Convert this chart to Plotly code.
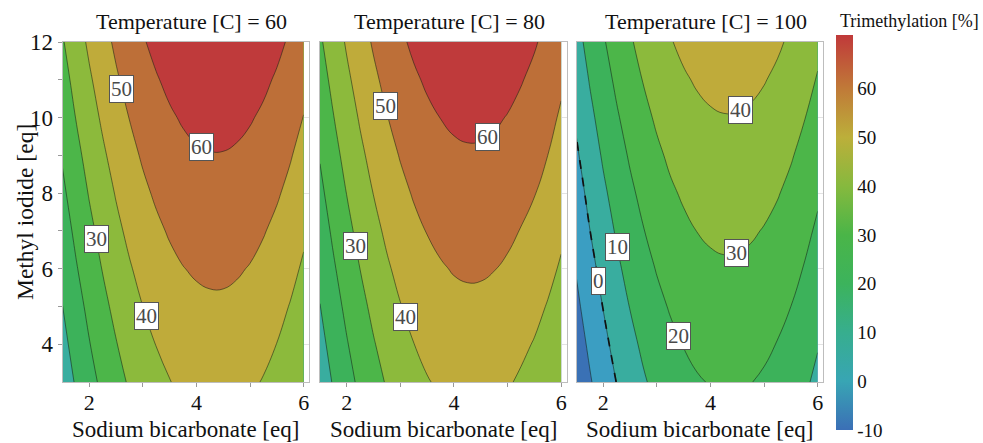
import numpy as np
import plotly.graph_objects as go

# ---------------- data ----------------
sodium_bicarbonate = [1.5, 1.75, 2.0, 2.25, 2.5, 2.75, 3.0, 3.25, 3.5, 3.75,
                      4.0, 4.25, 4.5, 4.75, 5.0, 5.25, 5.5, 5.75, 6.0]
methyl_iodide = [3, 4, 5, 6, 7, 8, 9, 10, 11, 12]
temperatures = [60, 80, 100]

trimethylation_T60 = [
    [4.5, 10.9, 16.8, 22.1, 26.9, 31.0, 34.5, 37.5, 39.8, 41.5, 42.7, 43.2, 43.2, 42.6, 41.4, 39.5, 37.1, 34.1, 30.5],
    [7.2, 13.7, 19.6, 24.9, 29.6, 33.7, 37.3, 40.2, 42.5, 44.3, 45.4, 46.0, 46.0, 45.3, 44.1, 42.3, 39.9, 36.9, 33.3],
    [9.9, 16.4, 22.3, 27.6, 32.4, 36.5, 40.0, 43.0, 45.3, 47.0, 48.2, 48.7, 48.7, 48.1, 46.9, 45.0, 42.6, 39.6, 36.0],
    [12.7, 19.2, 25.1, 30.4, 35.1, 39.2, 42.8, 45.7, 48.0, 49.8, 50.9, 51.5, 51.5, 50.8, 49.6, 47.8, 45.4, 42.4, 38.8],
    [15.5, 21.9, 27.8, 33.1, 37.9, 42.0, 45.5, 48.4, 50.8, 52.5, 53.7, 54.2, 54.2, 53.6, 52.4, 50.5, 48.1, 45.1, 41.5],
    [18.2, 24.7, 30.6, 35.9, 40.6, 44.7, 48.3, 51.2, 53.5, 55.3, 56.4, 57.0, 57.0, 56.3, 55.1, 53.3, 50.9, 47.9, 44.3],
    [20.9, 27.4, 33.3, 38.6, 43.4, 47.5, 51.0, 53.9, 56.3, 58.0, 59.2, 59.7, 59.7, 59.1, 57.9, 56.0, 53.6, 50.6, 47.0],
    [23.7, 30.2, 36.1, 41.4, 46.1, 50.2, 53.8, 56.7, 59.0, 60.8, 61.9, 62.5, 62.5, 61.8, 60.6, 58.8, 56.4, 53.4, 49.8],
    [26.4, 32.9, 38.8, 44.1, 48.9, 53.0, 56.5, 59.4, 61.8, 63.5, 64.7, 65.2, 65.2, 64.6, 63.4, 61.5, 59.1, 56.1, 52.5],
    [29.2, 35.7, 41.6, 46.9, 51.6, 55.7, 59.3, 62.2, 64.5, 66.3, 67.4, 68.0, 68.0, 67.3, 66.1, 64.3, 61.9, 58.9, 55.3],
]

trimethylation_T80 = [
    [4.4, 10.8, 16.7, 22.0, 26.7, 30.8, 34.3, 37.2, 39.5, 41.2, 42.4, 42.9, 42.8, 42.1, 40.8, 38.9, 36.7, 33.8, 30.3],
    [7.1, 13.5, 19.4, 24.7, 29.4, 33.5, 37.0, 39.9, 42.2, 43.9, 45.1, 45.6, 45.5, 44.8, 43.5, 41.6, 39.5, 36.7, 33.3],
    [9.8, 16.2, 22.1, 27.4, 32.1, 36.2, 39.7, 42.6, 44.9, 46.6, 47.8, 48.3, 48.2, 47.5, 46.2, 44.3, 42.3, 39.5, 36.2],
    [12.5, 18.9, 24.8, 30.1, 34.8, 38.9, 42.4, 45.3, 47.6, 49.3, 50.5, 51.0, 50.9, 50.2, 48.9, 47.0, 45.0, 42.3, 39.0],
    [15.2, 21.6, 27.5, 32.8, 37.5, 41.6, 45.1, 48.0, 50.3, 52.0, 53.2, 53.7, 53.6, 52.9, 51.6, 49.7, 47.7, 44.9, 41.6],
    [17.9, 24.3, 30.2, 35.5, 40.2, 44.3, 47.8, 50.7, 53.0, 54.7, 55.9, 56.4, 56.3, 55.6, 54.3, 52.4, 50.3, 47.5, 44.1],
    [20.6, 27.0, 32.9, 38.2, 42.9, 47.0, 50.5, 53.4, 55.7, 57.4, 58.6, 59.1, 59.0, 58.3, 57.0, 55.1, 52.9, 50.0, 46.5],
    [23.3, 29.7, 35.6, 40.9, 45.6, 49.7, 53.2, 56.1, 58.4, 60.1, 61.3, 61.8, 61.7, 61.0, 59.7, 57.8, 55.5, 52.5, 48.9],
    [26.0, 32.4, 38.3, 43.6, 48.3, 52.4, 55.9, 58.8, 61.1, 62.8, 64.0, 64.5, 64.4, 63.7, 62.4, 60.5, 58.1, 55.1, 51.4],
    [28.7, 35.1, 41.0, 46.3, 51.0, 55.1, 58.6, 61.5, 63.8, 65.5, 66.7, 67.2, 67.1, 66.4, 65.1, 63.2, 60.8, 57.7, 54.0],
]

trimethylation_T100 = [
    [-17.3, -10.9, -5.0, 0.2, 4.9, 9.0, 12.5, 15.4, 17.6, 19.3, 20.4, 21.0, 20.9, 20.2, 18.9, 17.1, 14.6, 11.6, 7.9],
    [-14.6, -8.2, -2.3, 2.9, 7.6, 11.7, 15.1, 18.0, 20.3, 22.0, 23.1, 23.6, 23.6, 22.9, 21.6, 19.7, 17.3, 14.2, 10.6],
    [-11.9, -5.5, 0.3, 5.6, 10.3, 14.3, 17.8, 20.7, 23.0, 24.7, 25.8, 26.3, 26.2, 25.6, 24.3, 22.4, 20.0, 16.9, 13.3],
    [-9.3, -2.8, 3.0, 8.3, 13.0, 17.0, 20.5, 23.4, 25.7, 27.4, 28.5, 29.0, 28.9, 28.2, 27.0, 25.1, 22.6, 19.6, 15.9],
    [-6.6, -0.1, 5.7, 11.0, 15.6, 19.7, 23.2, 26.1, 28.4, 30.1, 31.2, 31.7, 31.6, 30.9, 29.6, 27.8, 25.3, 22.3, 18.6],
    [-3.9, 2.5, 8.4, 13.6, 18.3, 22.4, 25.9, 28.8, 31.0, 32.7, 33.8, 34.4, 34.3, 33.6, 32.3, 30.5, 28.0, 25.0, 21.3],
    [-1.2, 5.2, 11.1, 16.3, 21.0, 25.1, 28.5, 31.4, 33.7, 35.4, 36.5, 37.0, 37.0, 36.3, 35.0, 33.1, 30.7, 27.6, 24.0],
    [1.4, 7.9, 13.7, 19.0, 23.7, 27.7, 31.2, 34.1, 36.4, 38.1, 39.2, 39.7, 39.6, 39.0, 37.7, 35.8, 33.4, 30.3, 26.7],
    [4.1, 10.6, 16.4, 21.7, 26.4, 30.4, 33.9, 36.8, 39.1, 40.8, 41.9, 42.4, 42.3, 41.6, 40.4, 38.5, 36.0, 33.0, 29.4],
    [6.8, 13.3, 19.1, 24.4, 29.0, 33.1, 36.6, 39.5, 41.8, 43.5, 44.6, 45.1, 45.0, 44.3, 43.0, 41.2, 38.7, 35.7, 32.0],
]

# contour labels: level and horizontal position of each labelled box
label_levels_T60 = [50, 60, 30, 40]
label_x_T60 = [2.61, 4.10, 2.13, 3.06]
label_levels_T80 = [50, 60, 30, 40]
label_x_T80 = [2.72, 4.62, 2.17, 3.09]
label_levels_T100 = [40, 30, 20, 10, 0]
label_x_T100 = [4.56, 4.49, 3.40, 2.26, 1.91]

colorbar_ticks = [-10, 0, 10, 20, 30, 40, 50, 60]
colorbar_ticktext = ['-10', '0', '10', '20', '30', '40', '50', '60']

# ---------------- styles ----------------
FONT = "Liberation Serif, Times New Roman, serif"
W, H = 983, 443
M_T, M_B = 42, 61
PH = H - M_T - M_B

band_colors = ['#3a71b5', '#3b9ec2', '#39ad9f', '#3cb25a', '#4cb649',
               '#8cba3c', '#bfab3a', '#bd6f38', '#bf3a3b']
band_scale = [[i / (len(band_colors) - 1), c] for i, c in enumerate(band_colors)]

cb_min, cb_max = -10, 71
cb_stops = [(-10, '#3b6fb6'), (0, '#38a5b4'), (10, '#37ae8e'), (20, '#3cb35c'),
            (30, '#4ab548'), (40, '#86b93e'), (50, '#bcaf3a'), (60, '#c07a38'),
            (71, '#c0393a')]
cb_scale = [[(v - cb_min) / (cb_max - cb_min), c] for v, c in cb_stops]

px_dom = [(62.5, 309.0), (320.0, 566.5), (576.5, 823.0)]
domains = [(a / W, b / W) for a, b in px_dom]

panels = [
    (trimethylation_T60, label_levels_T60, label_x_T60),
    (trimethylation_T80, label_levels_T80, label_x_T80),
    (trimethylation_T100, label_levels_T100, label_x_T100),
]

fig = go.Figure()
xs = np.array(sodium_bicarbonate, dtype=float)
ys = np.array(methyl_iodide, dtype=float)

annotations = []
for i, (Z, lv, lx) in enumerate(panels):
    ax = '' if i == 0 else str(i + 1)
    xa, ya = 'x' + ax, 'y' + ax
    fig.add_trace(go.Contour(
        x=sodium_bicarbonate, y=methyl_iodide, z=Z,
        xaxis=xa, yaxis=ya,
        autocontour=False,
        contours=dict(start=-10, end=60, size=10, coloring='fill', showlines=True),
        colorscale=band_scale, showscale=False,
        line=dict(color='rgba(20,30,20,0.6)', width=0.9, smoothing=1.3),
        hoverinfo='skip',
    ))
    Za = np.array(Z, dtype=float)
    if Za.min() < 0:
        fig.add_trace(go.Contour(
            x=sodium_bicarbonate, y=methyl_iodide, z=Z,
            xaxis=xa, yaxis=ya,
            autocontour=False,
            contours=dict(start=0, end=0, size=10, coloring='none'),
            showscale=False,
            line=dict(color='#111111', width=1.7, dash='dash', smoothing=1.3),
            hoverinfo='skip',
        ))
    # contour labels placed on the lines, positions derived from the data grid
    for level, xv in zip(lv, lx):
        zcol = np.array([np.interp(xv, xs, row) for row in Za])
        yv = float(np.interp(level, zcol, ys))
        annotations.append(dict(
            x=xv, y=yv, xref=xa, yref=ya, text=str(level), showarrow=False,
            font=dict(family=FONT, size=21, color='#4a4a4a'),
            bgcolor='white', bordercolor='#555555', borderwidth=1, borderpad=1,
        ))
    # subplot title
    d0, d1 = domains[i]
    annotations.append(dict(
        x=(d0 + d1) / 2 + 6 / W, y=1 + (42 - 22) / PH, xref='paper', yref='paper',
        text=f"Temperature [C] = {temperatures[i]}", showarrow=False,
        xanchor='center', yanchor='middle',
        font=dict(family=FONT, size=22, color='#111111'),
    ))
    # x axis title
    annotations.append(dict(
        x=(d0 + d1) / 2, y=-(429.5 - 382) / PH, xref='paper', yref='paper',
        text="Sodium bicarbonate [eq]", showarrow=False,
        xanchor='center', yanchor='middle',
        font=dict(family=FONT, size=23, color='#111111'),
    ))

# colorbar (continuous gradient)
fig.add_trace(go.Scatter(
    x=[None] * len(colorbar_ticks), y=[None] * len(colorbar_ticks),
    mode='markers', xaxis='x3', yaxis='y3', showlegend=False, hoverinfo='skip',
    marker=dict(color=colorbar_ticks, coloraxis='coloraxis'),
))

annotations.append(dict(
    x=25 / W, y=0.5, xref='paper', yref='paper', text="Methyl iodide [eq]",
    showarrow=False, textangle=-90, xanchor='center', yanchor='middle',
    font=dict(family=FONT, size=23.5, color='#111111'),
))
annotations.append(dict(
    x=838 / W, y=1 + (42 - 21) / PH, xref='paper', yref='paper',
    text="Trimethylation [%]", showarrow=False, xanchor='left', yanchor='middle',
    font=dict(family=FONT, size=18, color='#111111'),
))

layout = dict(
    width=W, height=H,
    margin=dict(l=0, r=0, t=M_T, b=M_B),
    paper_bgcolor='white', plot_bgcolor='white',
    showlegend=False,
    annotations=annotations,
    coloraxis=dict(
        colorscale=cb_scale, cmin=cb_min, cmax=cb_max,
        colorbar=dict(
            x=836 / W, xanchor='left', xpad=0, ypad=0,
            y=(H - M_B - 232.5) / PH, yanchor='middle',
            lenmode='pixels', len=395, thickness=17,
            outlinewidth=0, ticks='', tickvals=colorbar_ticks,
            ticktext=colorbar_ticktext,
            tickfont=dict(family=FONT, size=19, color='#111111'),
        ),
    ),
)

for i in range(3):
    ax = '' if i == 0 else str(i + 1)
    layout['xaxis' + ax] = dict(
        domain=list(domains[i]), range=[1.5, 6.1], anchor='y' + ax,
        tickvals=[2, 4, 6], ticks='outside', ticklen=4, tickcolor='#999999',
        minor=dict(tickvals=[3, 5], ticks='outside', ticklen=4, tickcolor='#999999'),
        ticklabelstandoff=-3,
        showgrid=True, gridcolor='#e3e3e3', gridwidth=1,
        showline=True, linecolor='#bdbdbd', linewidth=1, mirror=True,
        zeroline=False,
        tickfont=dict(family=FONT, size=22, color='#111111'),
    )
    layout['yaxis' + ax] = dict(
        domain=[0, 1], range=[3, 12], anchor='x' + ax,
        tickvals=[4, 6, 8, 10, 12],
        ticks='outside' if i == 0 else '', ticklen=4, tickcolor='#999999',
        minor=dict(tickvals=[5, 7, 9, 11], ticks='outside' if i == 0 else '',
                   ticklen=4, tickcolor='#999999'),
        showticklabels=(i == 0),
        showgrid=True, gridcolor='#e3e3e3', gridwidth=1,
        showline=True, linecolor='#bdbdbd', linewidth=1, mirror=True,
        zeroline=False,
        tickfont=dict(family=FONT, size=23, color='#111111'),
    )

fig.update_layout(**layout)
fig.write_html("out.html")
